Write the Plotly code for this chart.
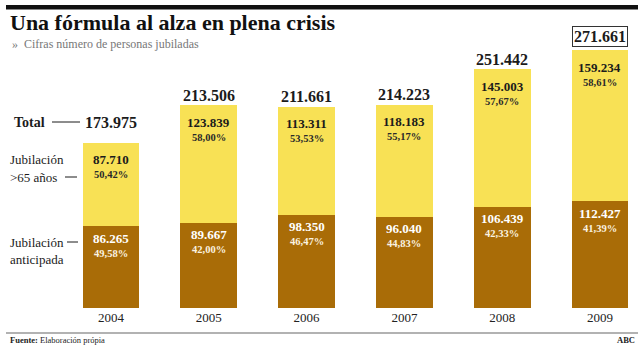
import plotly.graph_objects as go

years = ["2004", "2005", "2006", "2007", "2008", "2009"]
anticipada = [86265, 89667, 98350, 96040, 106439, 112427]
mayores65 = [87710, 123839, 113311, 118183, 145003, 159234]
totales = [173975, 213506, 211661, 214223, 251442, 271661]
pct_anticipada = ["49,58%", "42,00%", "46,47%", "44,83%", "42,33%", "41,39%"]
pct_mayores65 = ["50,42%", "58,00%", "53,53%", "55,17%", "57,67%", "58,61%"]

def fmt(v):
    return f"{v:,}".replace(",", ".")

W, H = 644, 362
L, R, T, B = 10, 10, 50, 54
PW, PH = W - L - R, H - T - B

def px(x):
    return (x - L) / PW

def py(y):
    return (H - B - y) / PH

YELLOW = "#F8E155"
BROWN = "#A96C07"
SERIF = "Liberation Serif"
DARK = "#1b1b1b"

fig = go.Figure()
fig.add_trace(go.Bar(x=years, y=anticipada, marker=dict(color=BROWN, line=dict(width=0)),
                     width=0.58, hoverinfo="skip"))
fig.add_trace(go.Bar(x=years, y=mayores65, marker=dict(color=YELLOW, line=dict(width=0)),
                     width=0.58, hoverinfo="skip"))

ann = []
for i, yr in enumerate(years):
    # yellow segment labels
    ann.append(dict(x=i, y=totales[i], yshift=-17, text=f"<b>{fmt(mayores65[i])}</b>",
                    showarrow=False, font=dict(family=SERIF, size=13, color=DARK), yanchor="middle"))
    ann.append(dict(x=i, y=totales[i], yshift=-32, text=f"<b>{pct_mayores65[i]}</b>",
                    showarrow=False, font=dict(family=SERIF, size=10.5, color="#2a2a2a"), yanchor="middle"))
    # brown segment labels
    ann.append(dict(x=i, y=anticipada[i], yshift=-12, text=f"<b>{fmt(anticipada[i])}</b>",
                    showarrow=False, font=dict(family=SERIF, size=13, color="white"), yanchor="middle"))
    ann.append(dict(x=i, y=anticipada[i], yshift=-27, text=f"<b>{pct_anticipada[i]}</b>",
                    showarrow=False, font=dict(family=SERIF, size=10.5, color="#fbf3e0"), yanchor="middle"))
    # totals
    if i == 0:
        ann.append(dict(x=i, xref="x", y=py(122), yref="paper", text=f"<b>{fmt(totales[i])}</b>",
                        showarrow=False, font=dict(family=SERIF, size=16, color=DARK), yanchor="middle"))
    elif i == len(years) - 1:
        ann.append(dict(x=i, y=totales[i], yshift=14, text=f"<b>{fmt(totales[i])}</b>",
                        showarrow=False, font=dict(family=SERIF, size=16, color=DARK), yanchor="middle",
                        bordercolor="#333", borderwidth=1, borderpad=1))
    else:
        ann.append(dict(x=i, y=totales[i], yshift=10, text=f"<b>{fmt(totales[i])}</b>",
                        showarrow=False, font=dict(family=SERIF, size=16, color=DARK), yanchor="middle"))

def txt(x, y, s, size=13, anchor="left", bold=False, color=DARK, family=SERIF):
    return dict(x=px(x), y=py(y), xref="paper", yref="paper", text=f"<b>{s}</b>" if bold else s,
                showarrow=False, xanchor=anchor, yanchor="middle",
                font=dict(family=family, size=size, color=color))

ann += [
    txt(8, 22, "Una fórmula al alza en plena crisis", size=22, bold=True, color="#111"),
    txt(10, 44, "»  Cifras número de personas jubiladas", size=12, color="#777"),
    txt(12, 122, "Total", size=14, bold=True),
    txt(8, 159, "Jubilación", size=13),
    txt(8, 177, "&gt;65 años", size=13),
    txt(8, 242, "Jubilación", size=13),
    txt(8, 259, "anticipada", size=13),
    txt(8, 340, "<b>Fuente:</b> Elaboración própia", size=8.5, color="#222"),
    txt(637, 340, "ABC", size=8.5, anchor="right", bold=True, color="#222"),
]

def hline(x0, x1, y, color=DARK, width=1):
    return dict(type="line", xref="paper", yref="paper", x0=px(x0), x1=px(x1), y0=py(y), y1=py(y),
                line=dict(color=color, width=width))

shapes = [
    dict(type="rect", xref="paper", yref="paper", x0=px(6), x1=px(638), y0=py(5), y1=py(9.5),
         fillcolor="#111", line=dict(width=0)),
    hline(6, 638, 333, color="#999", width=1.5),
    hline(52, 80, 122),
    hline(65, 77, 177),
    hline(67, 78, 242),
]

fig.update_layout(
    width=W, height=H, margin=dict(l=L, r=R, t=T, b=B, pad=0),
    barmode="stack", showlegend=False,
    paper_bgcolor="white", plot_bgcolor="white",
    xaxis=dict(type="category", range=[-1.033, 5.348], showgrid=False, zeroline=False, showline=False,
               ticks="", tickfont=dict(family=SERIF, size=13, color="#222"), fixedrange=True),
    yaxis=dict(range=[0, max(totales)], visible=False, showgrid=False, zeroline=False, fixedrange=True),
    annotations=ann, shapes=shapes,
)

fig.write_html("out.html", config=dict(displayModeBar=False),
               post_script="document.body.style.margin='0';document.body.style.overflow='hidden';")
